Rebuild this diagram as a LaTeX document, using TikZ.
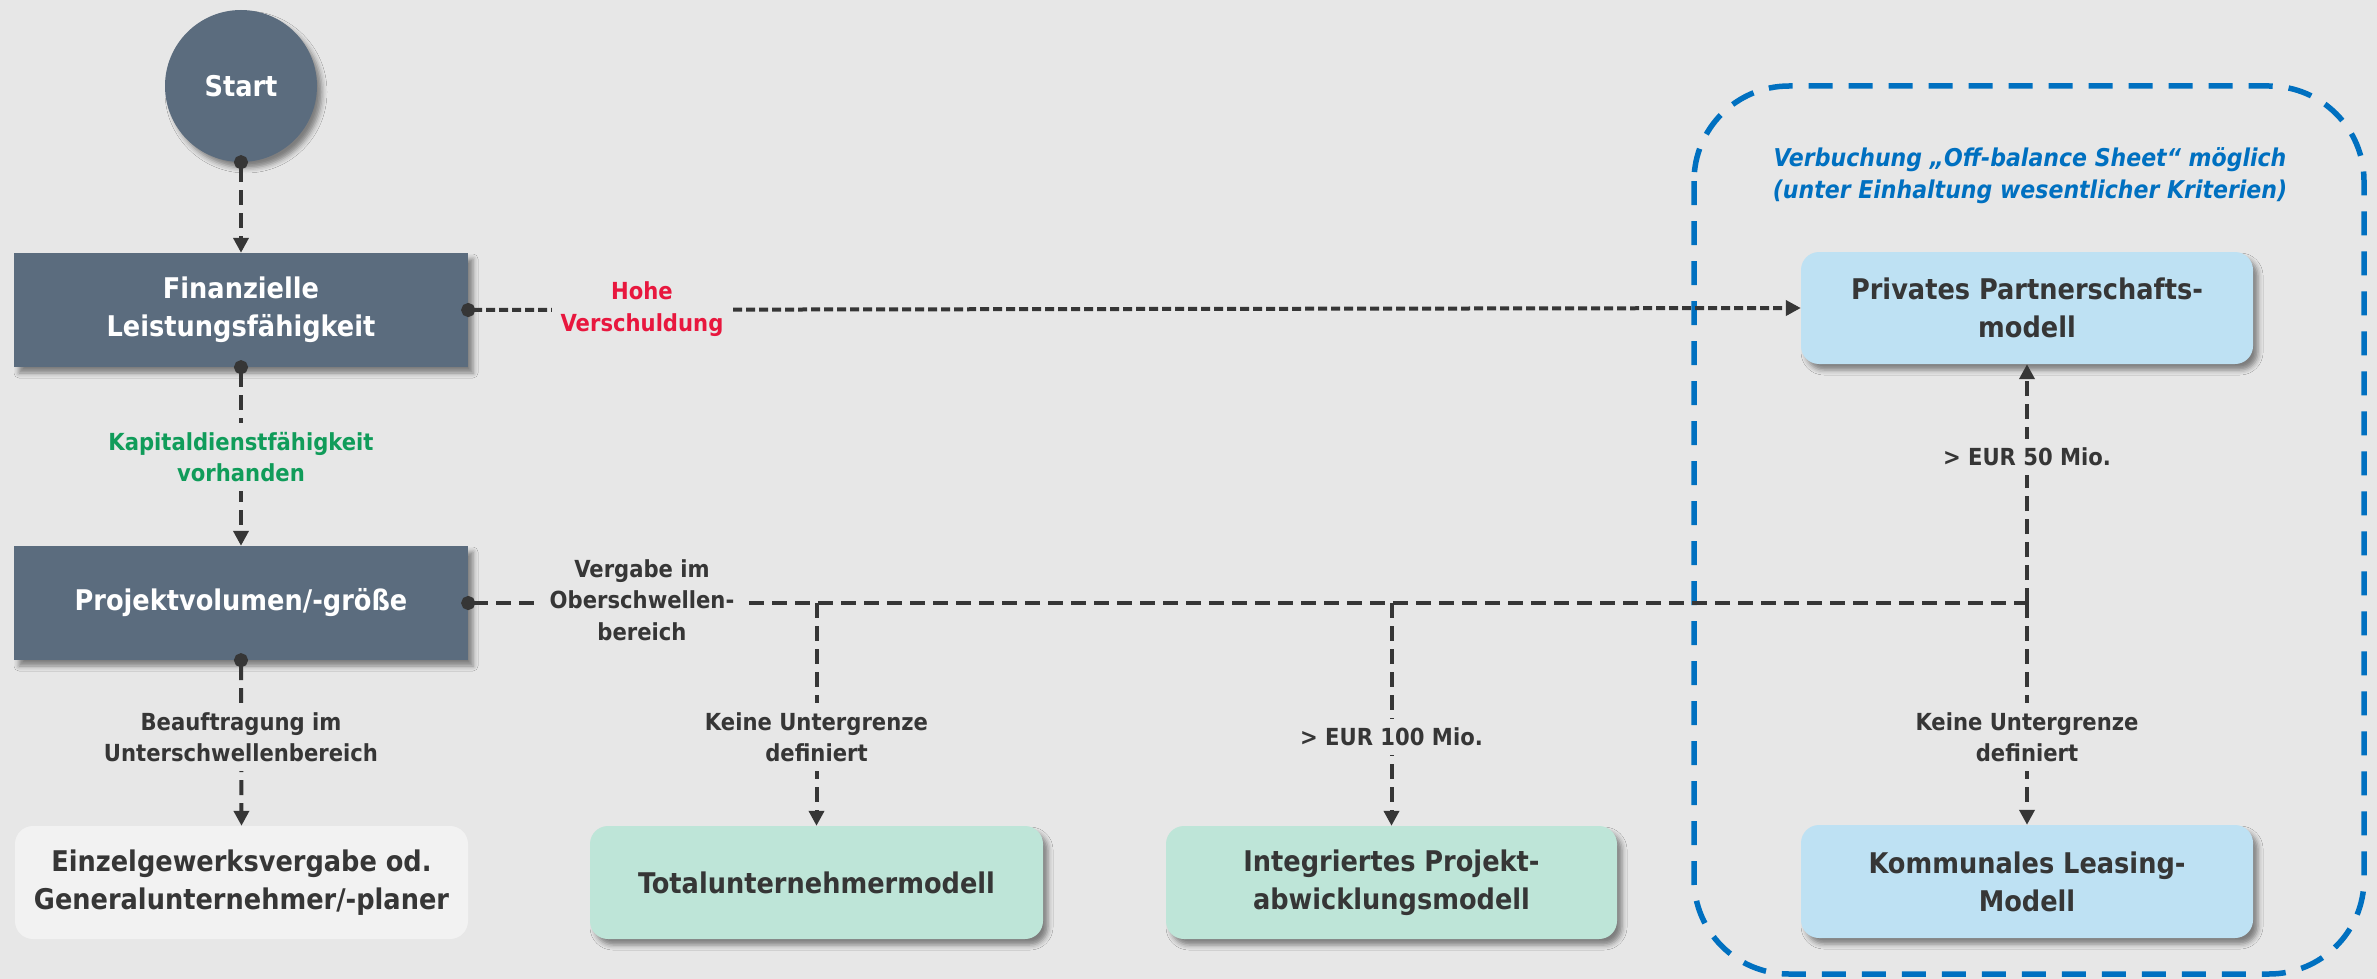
\documentclass[tikz,border=0pt]{standalone}
\usepackage{fontspec}
\setmainfont{DejaVu Sans Condensed}
\usetikzlibrary{arrows.meta,shadows.blur}
\definecolor{bg}{HTML}{E7E7E7}
\definecolor{slate}{HTML}{5B6C7E}
\definecolor{lightgray}{HTML}{F2F2F2}
\definecolor{mint}{HTML}{BEE5D8}
\definecolor{sky}{HTML}{BEE1F3}
\definecolor{ink}{HTML}{363636}
\definecolor{alarm}{HTML}{E8173E}
\definecolor{okgreen}{HTML}{109C5A}
\definecolor{frameblue}{HTML}{0070C0}
\newcommand\bxfont{\fontsize{28.5}{38}\selectfont\bfseries}
\newcommand\lbfont{\fontsize{23.5}{31.5}\selectfont\bfseries}
\newcommand\ntfont{\fontsize{24.5}{32}\selectfont\bfseries\itshape}
\begin{document}
\begin{tikzpicture}[x=1pt,y=-1pt,
  shad/.style={blur shadow={shadow xshift=5pt,shadow yshift=-6pt,shadow blur radius=5pt,shadow opacity=45}},
  box/.style={minimum width=454pt,minimum height=114pt,inner sep=0pt,align=center,font=\bxfont,text=ink},
  darkbox/.style={box,fill=slate,text=white,shad},
  lightbox/.style={box,rounded corners=18pt,fill=#1},
  startnode/.style={circle,fill=slate,minimum size=152pt,inner sep=0pt,text=white,font=\bxfont,shad},
  lbl/.style={font=\lbfont,align=center,text=ink,fill=bg,inner sep=9pt},
  conn/.style={draw=ink,line width=4pt,dash pattern=on 15pt off 8pt},
  fine/.style={draw=ink,line width=4pt,dash pattern=on 9pt off 4pt},
  dotted start/.style={shorten <=-7pt,{Circle[length=14pt,width=14pt]}-},
  tip/.style={-{Triangle[length=15pt,width=15pt]}},
  dottip/.style={shorten <=-7pt,{Circle[length=14pt,width=14pt]}-{Triangle[length=15pt,width=15pt]}},
  bluebox/.style={draw=frameblue,line width=5.5pt,dash pattern=on 24pt off 16pt,rounded corners=95pt}
]
\fill[bg] (0,0) rectangle (2377,979);
\useasboundingbox (0,0) rectangle (2377,979);

% frame
\draw[bluebox] (1694,86) rectangle (2364,974);
\node[font=\ntfont,text=frameblue,align=center] (note) at (2030,176)
  {Verbuchung „Off-balance Sheet“ möglich\\(unter Einhaltung wesentlicher Kriterien)};

% nodes
\node[startnode] (start) at (241,86) {Start};
\node[darkbox] (fin) at (241,310) {Finanzielle\\Leistungsfähigkeit};
\node[darkbox] (proj) at (241,603) {Projektvolumen/-größe};
\node[box,rounded corners=18pt,fill=lightgray,minimum width=453pt,minimum height=113pt] (einz) at (241.5,882.5) {Einzelgewerksvergabe od.\\Generalunternehmer/-planer};
\node[lightbox=mint,shad,minimum width=453pt,minimum height=113pt] (total) at (816.5,882.5) {Totalunternehmermodell};
\node[lightbox=mint,shad,minimum width=451pt,minimum height=113pt] (integ) at (1391.5,882.5) {Integriertes Projekt-\\abwicklungsmodell};
\node[lightbox=sky,shad,minimum width=452pt,minimum height=112pt] (priv) at (2027,308) {Privates Partnerschafts-\\modell};
\node[lightbox=sky,shad,minimum width=452pt,minimum height=113pt] (komm) at (2027,881.5) {Kommunales Leasing-\\Modell};

\coordinate (j1) at (816.5,603);
\coordinate (j2) at (1391.5,603);
\coordinate (j3) at (2027,603);

% connectors
\draw[conn,dottip] (start.south) -- (fin.north);
\draw[fine,dottip] (fin.east) -- (priv.west);
\draw[conn,dottip] (fin.south) -- (proj.north);
\draw[conn,dottip] (proj.south) -- (einz.north);
\draw[conn,dotted start] (proj.east) -- (j3);
\draw[conn,tip] (j1) -- (total.north);
\draw[conn,tip] (j2) -- (integ.north);
\draw[conn,tip] (j3) -- (priv.south);
\draw[conn,tip] (j3) -- (komm.north);

% labels
\node[lbl,text=alarm] (l1) at (642,309) {Hohe\\Verschuldung};
\node[lbl,text=okgreen] (l2) at (241,457) {Kapitaldienstfähigkeit\\vorhanden};
\node[lbl] (l3) at (642,600) {Vergabe im\\Oberschwellen-\\bereich};
\node[lbl] (l4) at (241,737) {Beauftragung im\\Unterschwellenbereich};
\node[lbl] (l5) at (816.5,737) {Keine Untergrenze\\definiert};
\node[lbl] (l6) at (1391.5,737) {> EUR 100 Mio.};
\node[lbl] (l7) at (2027,457) {> EUR 50 Mio.};
\node[lbl] (l8) at (2027,737) {Keine Untergrenze\\definiert};
\end{tikzpicture}
\end{document}
